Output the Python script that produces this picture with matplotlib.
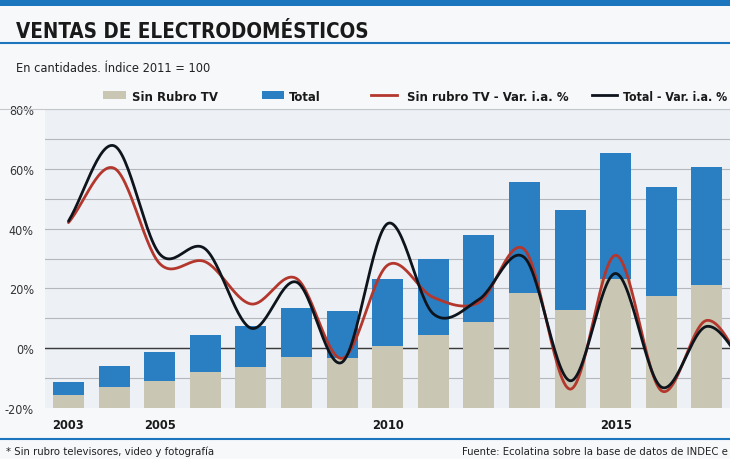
import os
import numpy as np
import matplotlib
matplotlib.use("Agg")
import matplotlib.pyplot as plt
from matplotlib import font_manager
from matplotlib.patches import Rectangle
from matplotlib.lines import Line2D

# ---- data ----
years = np.arange(2003, 2018)
sin_tv_idx = [-15.7, -13.0, -11.0, -8.0, -6.3, -3.0, -3.3, 0.7, 4.3, 8.7, 18.3, 12.7, 23.3, 17.3, 21.0]
total_idx = [-11.3, -5.8, -1.3, 4.3, 7.3, 13.3, 12.3, 23.3, 29.7, 37.7, 55.7, 46.3, 65.3, 54.0, 60.7]

line_years = np.arange(2003, 2019)
sin_tv_var = [42.0, 60.2, 28.3, 28.9, 14.8, 23.3, -3.4, 27.8, 17.0, 15.3, 33.0, -13.7, 31.1, -14.2, 9.3, -11.0]
total_var = [42.5, 67.7, 31.5, 33.2, 6.7, 22.1, -4.7, 41.7, 11.5, 16.3, 30.3, -10.9, 25.0, -13.0, 7.3, -9.5]

yticks = [80, 60, 40, 20, 0, -20]
xlabels = ["2003", "2005", "2010", "2015"]

BLUE = "#2a7fc2"
BEIGE = "#c9c7b3"
RED = "#b3372d"
BLACK = "#0e141c"

W, H = 730, 460


def pick_font(patterns, family, weight):
    # prefer a narrow face if one is installed
    for p in patterns:
        for f in font_manager.fontManager.ttflist:
            if os.path.basename(f.fname).startswith(p):
                return font_manager.FontProperties(fname=f.fname)
    return font_manager.FontProperties(family=family, weight=weight)


REG = pick_font(["LiberationSansNarrow-Regular", "DejaVuSansCondensed.", "RobotoCondensed-Regular"],
                ["Roboto", "DejaVu Sans"], "normal")
BOLD = pick_font(["LiberationSansNarrow-Bold.", "DejaVuSansCondensed-Bold.", "RobotoCondensed-Bold"],
                 ["Roboto", "DejaVu Sans"], "bold")


def fp(base, size):
    p = base.copy()
    p.set_size(size)
    return p


def fx(px):
    return px / W


def fy(py):
    return 1 - py / H


def smooth(x, y, n=30):
    # Catmull-Rom curve through the yearly points
    x = np.asarray(x, float)
    y = np.asarray(y, float)
    xp = np.r_[2 * x[0] - x[1], x, 2 * x[-1] - x[-2]]
    yp = np.r_[2 * y[0] - y[1], y, 2 * y[-1] - y[-2]]
    xs, ys = [], []
    t = np.linspace(0, 1, n)
    for i in range(1, len(xp) - 2):
        m0 = (yp[i + 1] - yp[i - 1]) / 2
        m1 = (yp[i + 2] - yp[i]) / 2
        h00 = 2 * t ** 3 - 3 * t ** 2 + 1
        h10 = t ** 3 - 2 * t ** 2 + t
        h01 = -2 * t ** 3 + 3 * t ** 2
        h11 = t ** 3 - t ** 2
        xs.append(xp[i] + t * (xp[i + 1] - xp[i]))
        ys.append(h00 * yp[i] + h10 * m0 + h01 * yp[i + 1] + h11 * m1)
    return np.concatenate(xs), np.concatenate(ys)


fig = plt.figure(figsize=(7.3, 4.6), dpi=100, facecolor="#f6f8fa")

# header band and rules
fig.add_artist(Rectangle((0, fy(7)), 1, 7 / H, transform=fig.transFigure,
                         color="#1b76bd", lw=0))
fig.add_artist(Line2D([0, 1], [fy(43.5), fy(43.5)], transform=fig.transFigure,
                      color="#1b76bd", lw=1.5))
fig.add_artist(Line2D([0, 1], [fy(440), fy(440)], transform=fig.transFigure,
                      color="#1b76bd", lw=1.5))

fig.text(fx(16), fy(38), "VENTAS DE ELECTRODOMÉSTICOS", fontproperties=fp(BOLD, 14.8),
         color="#1a1a1a", va="baseline")
fig.text(fx(16), fy(72), "En cantidades. Índice 2011 = 100", fontproperties=fp(REG, 9.2),
         color="#222222", va="baseline")

# ---- plot area ----
ax = fig.add_axes([fx(45), fy(409), 1 - fx(45), (409 - 110) / H])
ax.set_facecolor("#edf0f4")
ax.set_xlim(2002.485, 2017.506)
ax.set_ylim(-20, 80)
for s in ax.spines.values():
    s.set_visible(False)
for g in range(-10, 81, 10):
    ax.axhline(g, color="#b4b7bb", lw=0.8, zorder=1)
ax.axhline(0, color="#3a3a3a", lw=1.0, zorder=2)

ax.bar(years, np.array(total_idx) + 20, bottom=-20, width=0.68, color=BLUE, zorder=3)
ax.bar(years, np.array(sin_tv_idx) + 20, bottom=-20, width=0.68, color=BEIGE, zorder=4)

xs, ys = smooth(line_years, sin_tv_var)
ax.plot(xs, ys, color=RED, lw=2.0, zorder=5, solid_capstyle="round")
xs, ys = smooth(line_years, total_var)
ax.plot(xs, ys, color=BLACK, lw=2.0, zorder=6, solid_capstyle="round")

ax.set_yticks(yticks)
ax.set_yticklabels([f"{v}%" for v in yticks], fontproperties=fp(REG, 9), color="#333333")
ax.set_xticks([int(v) for v in xlabels])
ax.set_xticklabels(xlabels, fontproperties=fp(BOLD, 9.2), color="#1a1a1a")
ax.tick_params(length=0, pad=7)
ax.tick_params(axis="y", pad=8)

# ---- legend row ----
fig.add_artist(Line2D([fx(0), 1], [fy(110), fy(110)], transform=fig.transFigure,
                      color="#c4c7cb", lw=0.8))
fig.add_artist(Rectangle((fx(103), fy(100)), 23 / W, 8 / H, transform=fig.transFigure,
                         color=BEIGE, lw=0))
fig.text(fx(132), fy(101), "Sin Rubro TV", fontproperties=fp(BOLD, 9.4),
         color="#1a1a1a", va="baseline")
fig.add_artist(Rectangle((fx(262), fy(100)), 22 / W, 8 / H, transform=fig.transFigure,
                         color=BLUE, lw=0))
fig.text(fx(289), fy(101), "Total", fontproperties=fp(BOLD, 9.4),
         color="#1a1a1a", va="baseline")
fig.add_artist(Line2D([fx(371), fx(397)], [fy(96), fy(96)], transform=fig.transFigure,
                      color=RED, lw=2))
fig.text(fx(407), fy(101), "Sin rubro TV - Var. i.a. %", fontproperties=fp(BOLD, 9.4),
         color="#1a1a1a", va="baseline")
fig.add_artist(Line2D([fx(592), fx(617)], [fy(96), fy(96)], transform=fig.transFigure,
                      color=BLACK, lw=2))
fig.text(fx(623), fy(101), "Total - Var. i.a. %", fontproperties=fp(BOLD, 8.8),
         color="#1a1a1a", va="baseline")

# ---- footer ----
fig.text(fx(6), fy(455), "* Sin rubro televisores, video y fotografía", fontproperties=fp(REG, 8.1),
         color="#222222", va="baseline")
fig.text(fx(728), fy(455), "Fuente: Ecolatina sobre la base de datos de INDEC e",
         fontproperties=fp(REG, 8.1), color="#222222", va="baseline", ha="right")

fig.savefig("out.png", dpi=100, facecolor=fig.get_facecolor())
